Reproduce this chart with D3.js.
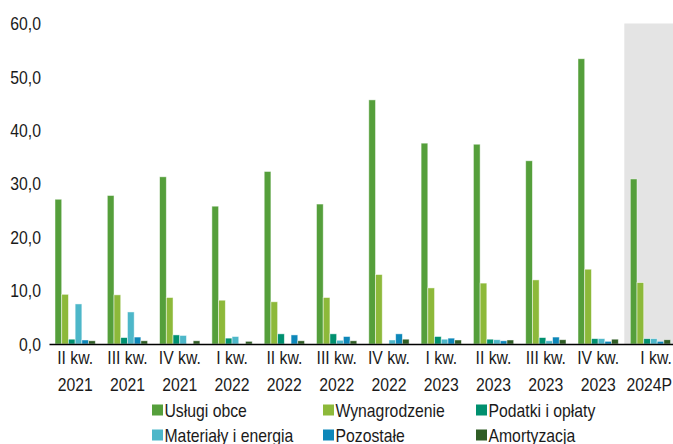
<!DOCTYPE html>
<html>
<head>
<meta charset="utf-8">
<script src="https://cdn.jsdelivr.net/npm/d3@7"></script>
<style>
  body { margin: 0; background: #fff; }
  text { font-family: "Liberation Sans", Arial, sans-serif; fill: #1a1a1a; }
</style>
</head>
<body>
<script>
  var width = 673,
      height = 444,
      fontSize = 19,
      narrow = 0.83; // Arial Narrow look-alike

  // quarters (two-line labels)
  var quarters = ["II kw.|2021", "III kw.|2021", "IV kw.|2021", "I kw.|2022", "II kw.|2022", "III kw.|2022",
                  "IV kw.|2022", "I kw.|2023", "II kw.|2023", "III kw.|2023", "IV kw.|2023", "I kw.|2024P"];
  var forecastQuarter = "I kw.|2024P";

  var seriesNames = ["Usługi obce", "Wynagrodzenie", "Podatki i opłaty", "Materiały i energia", "Pozostałe", "Amortyzacja"];
  var seriesColors = ["#559f3b", "#8db93a", "#00906f", "#4db7c9", "#0d87b9", "#2f5d25"];

  var uslugiObce     = [27.1, 27.8, 31.3, 25.8, 32.3, 26.2, 45.7, 37.6, 37.4, 34.3, 53.4, 30.9];
  var wynagrodzenie  = [9.3, 9.2, 8.7, 8.2, 7.9, 8.7, 13.0, 10.5, 11.4, 12.0, 14.0, 11.5];
  var podatki        = [0.9, 1.2, 1.7, 1.1, 1.9, 1.9, 0, 1.4, 0.9, 1.2, 1.0, 1.0];
  var materialy      = [7.5, 6.0, 1.6, 1.4, 0, 0.7, 0.75, 0.9, 0.8, 0.6, 1.0, 1.0];
  var pozostale      = [0.75, 1.3, 0, 0, 1.7, 1.4, 1.9, 1.1, 0.6, 1.3, 0.5, 0.5];
  var amortyzacja    = [0.6, 0.6, 0.6, 0.5, 0.6, 0.6, 0.9, 0.75, 0.75, 0.8, 0.9, 0.8];

  var yTicks = [0, 10, 20, 30, 40, 50, 60];

  var allSeries = [uslugiObce, wynagrodzenie, podatki, materialy, pozostale, amortyzacja];

  var rows = quarters.map(function(q, i) {
    return { q: q, values: allSeries.map(function(s, j) { return { name: seriesNames[j], v: s[i] }; }) };
  });

  var svg = d3.select("body").append("svg")
      .attr("width", width)
      .attr("height", height);

  var x0 = d3.scaleBand().domain(quarters).range([49, 676.6]).padding(0);
  var x1 = d3.scaleBand().domain(seriesNames).range([6, x0.bandwidth() - 6]).padding(0);
  var y = d3.scaleLinear().domain([0, 60]).range([344, 23.5]);
  var color = d3.scaleOrdinal().domain(seriesNames).range(seriesColors);

  // helper: condensed text anchored at (x, y)
  function narrowText(sel, x, y) {
    return sel.append("g")
        .attr("transform", "translate(" + x + "," + y + ")")
      .append("text")
        .attr("transform", "scale(" + narrow + ",1)")
        .attr("font-size", fontSize);
  }

  // forecast shading
  svg.append("rect")
      .attr("x", x0(forecastQuarter))
      .attr("y", y(60))
      .attr("width", width - x0(forecastQuarter))
      .attr("height", y(0) - y(60))
      .attr("fill", "#e4e4e4");

  // y labels
  yTicks.forEach(function(t) {
    narrowText(svg, 41, y(t))
        .attr("text-anchor", "end")
        .attr("dy", "0.35em")
        .text(d3.format(".1f")(t).replace(".", ","));
  });

  // bars
  var groups = svg.selectAll(".grp")
      .data(rows)
      .enter().append("g")
      .attr("class", "grp")
      .attr("transform", function(d) { return "translate(" + x0(d.q) + ",0)"; });

  groups.selectAll("rect")
      .data(function(d) { return d.values.filter(function(v) { return v.v > 0; }); })
      .enter().append("rect")
      .attr("x", function(d) { return x1(d.name); })
      .attr("y", function(d) { return y(d.v); })
      .attr("width", x1.bandwidth())
      .attr("height", function(d) { return y(0) - y(d.v); })
      .attr("fill", function(d) { return color(d.name); })
      .attr("stroke", "#ffffff")
      .attr("stroke-opacity", 0.6)
      .attr("stroke-width", 0.8);

  // x axis line
  var xAxis = d3.axisBottom(x0).tickSize(0).tickFormat("");
  var gx = svg.append("g").attr("transform", "translate(0," + y(0) + ")").call(xAxis);
  gx.select(".domain").attr("stroke", "#000").attr("stroke-width", 1.6);

  quarters.forEach(function(q) {
    var cx = x0(q) + x0.bandwidth() / 2,
        parts = q.split("|");
    if (q === forecastQuarter) {
      // last label sits against the right edge
      narrowText(svg, 656, 364).attr("text-anchor", "middle").text(parts[0]);
      narrowText(svg, 672, 391).attr("text-anchor", "end").text(parts[1]);
      return;
    }
    narrowText(svg, cx, 364).attr("text-anchor", "middle").text(parts[0]);
    narrowText(svg, cx, 391).attr("text-anchor", "middle").text(parts[1]);
  });

  // legend
  var legX = [152, 323, 476],
      legY = [410, 435];
  seriesNames.forEach(function(name, i) {
    var lx = legX[i % 3], ly = legY[Math.floor(i / 3)];
    svg.append("rect")
        .attr("x", lx).attr("y", ly - 5.5)
        .attr("width", 11).attr("height", 11)
        .attr("fill", color(name));
    narrowText(svg, lx + 12.5, ly)
        .attr("dy", "0.35em")
        .text(name);
  });
</script>
</body>
</html>
